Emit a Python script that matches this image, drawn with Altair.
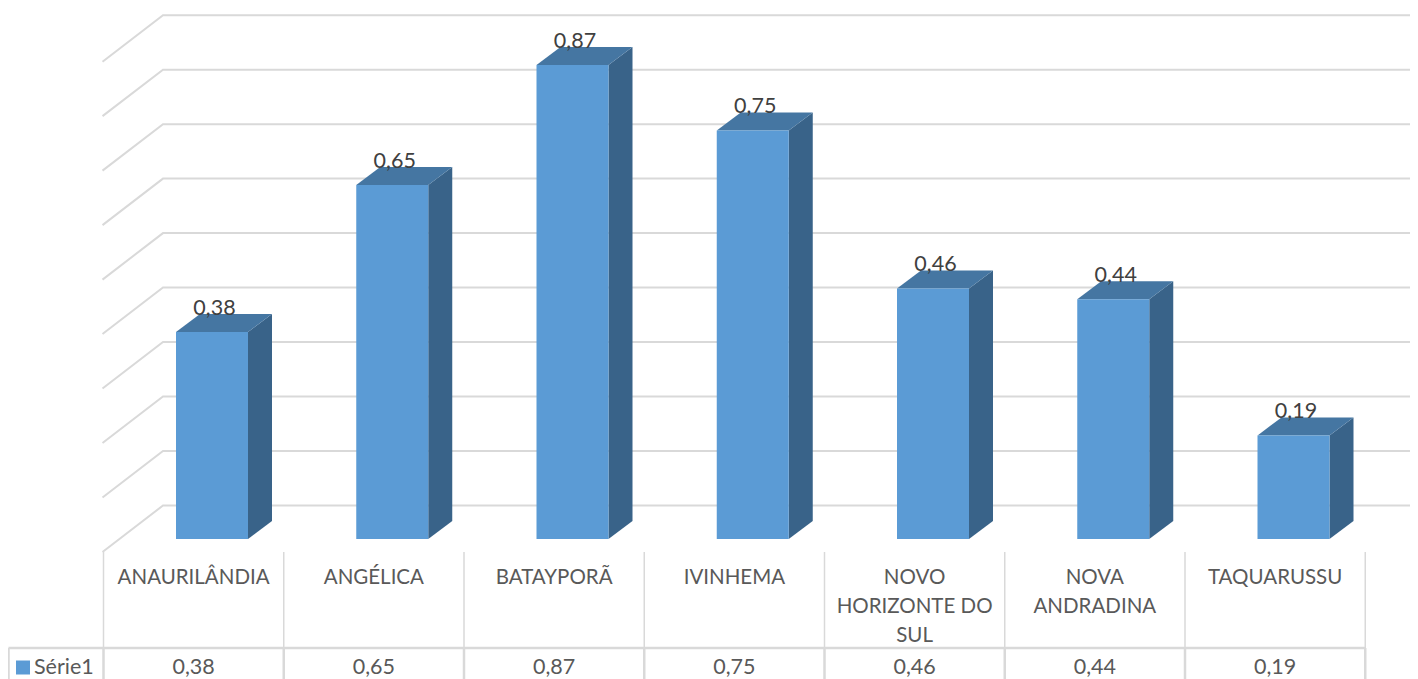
import altair as alt
import pandas as pd

categories = ["ANAURILÂNDIA", "ANGÉLICA", "BATAYPORÃ", "IVINHEMA",
              "NOVO\nHORIZONTE DO\nSUL", "NOVA\nANDRADINA", "TAQUARUSSU"]
values = [0.38, 0.65, 0.87, 0.75, 0.46, 0.44, 0.19]
labels = ["0,38", "0,65", "0,87", "0,75", "0,46", "0,44", "0,19"]
ticks = [0.0, 0.1, 0.2, 0.3, 0.4, 0.5, 0.6, 0.7, 0.8, 0.9]
series_name = "Série1"

W, H = 1402, 671
PX = 180.25          # pixels per category
PY = 544.8           # pixels per value unit
X0, Y0 = 212 - 8, 539 - 8   # category 0 and value 0 inside the plot


def ux(px):          # length in pixels -> x units
    return px / PX


def uy(px):          # length in pixels -> y units
    return px / PY


xs = alt.Scale(domain=[-X0 / PX, (W - X0) / PX], nice=False, zero=False)
ys = alt.Scale(domain=[-(H - Y0) / PY, Y0 / PY], nice=False, zero=False)


def X(f="x"):
    return alt.X(f"{f}:Q", scale=xs, axis=None, title=None)


def Y(f="y"):
    return alt.Y(f"{f}:Q", scale=ys, axis=None, title=None)


half = ux(36)
dx, dy = ux(24), uy(18)

bars, side, top = [], [], []
for i, v in enumerate(values):
    bars.append({"x": i - half, "x2": i + half, "y": v, "y2": 0})
    side += [{"g": i, "x": i + half, "y": v, "y2": 0},
             {"g": i, "x": i + half + dx, "y": v + dy, "y2": dy}]
    top += [{"g": i, "y": v, "x": i - half, "x2": i + half},
            {"g": i, "y": v + dy, "x": i - half + dx, "x2": i + half + dx}]

wall_front_x, wall_back_x = ux(102.5 - 212), ux(163 - 212)
right_x = (W - X0) / PX
front_off, back_off = uy(539 - 552), uy(33.5)
grid = []
for t in ticks:
    grid += [{"t": t, "o": 0, "x": wall_front_x, "y": t + front_off},
             {"t": t, "o": 1, "x": wall_back_x, "y": t + back_off},
             {"t": t, "o": 2, "x": right_x, "y": t + back_off}]

GRID = "#d9d9d9"
grid_l = alt.Chart(pd.DataFrame(grid)).mark_line(color=GRID, strokeWidth=2).encode(
    x=X(), y=Y(), detail="t:N", order="o:Q")

table_x = [ux(103.5 - 212) + i for i in range(8)]
y_head = front_off
y_row = uy(539 - 648)
y_bottom = -(H - Y0) / PY
left_edge = -X0 / PX + ux(0.5)
cell = ux(103.5 + 90.1 - 212)

v_upper = alt.Chart(pd.DataFrame({"x": table_x, "y": [y_head] * 8, "y2": [y_row] * 8})).mark_rule(
    color=GRID, strokeWidth=1.5).encode(x=X(), y=Y(), y2="y2:Q")
v_lower = alt.Chart(pd.DataFrame({"x": [left_edge] + table_x, "y": [y_row] * 9, "y2": [y_bottom] * 9})).mark_rule(
    color=GRID, strokeWidth=2.5).encode(x=X(), y=Y(), y2="y2:Q")
h_row = alt.Chart(pd.DataFrame({"x": [left_edge], "x2": [table_x[-1]], "y": [y_row]})).mark_rule(
    color=GRID, strokeWidth=2.5).encode(x=X(), x2="x2:Q", y=Y())

side_l = alt.Chart(pd.DataFrame(side)).mark_area(color="#396389", opacity=1).encode(
    x=X(), y=Y(), y2="y2:Q", detail="g:N")
top_l = alt.Chart(pd.DataFrame(top)).mark_area(color="#4576a2", opacity=1, orient="horizontal").encode(
    y=Y(), x=X(), x2="x2:Q", detail="g:N")
bar_l = alt.Chart(pd.DataFrame(bars)).mark_rect(color="#5b9bd5", opacity=1).encode(
    x=X(), x2="x2:Q", y=Y(), y2="y2:Q")

FONT = "Lato"
val_l = alt.Chart(pd.DataFrame({"x": [i + ux(2.5) for i in range(7)],
                                "y": [v + uy(23) for v in values], "t": labels})).mark_text(
    font=FONT, fontSize=21.5, color="#404040").encode(x=X(), y=Y(), text="t:N")
cat_l = alt.Chart(pd.DataFrame({"x": [cell + i for i in range(7)],
                                "y": [uy(539 - 568)] * 7, "t": categories})).mark_text(
    font=FONT, fontSize=20.5, color="#595959", baseline="top", lineBreak="\n", lineHeight=29).encode(
    x=X(), y=Y(), text="t:N")
row_l = alt.Chart(pd.DataFrame({"x": [cell + i for i in range(7)], "y": [uy(539 - 668)] * 7, "t": labels})).mark_text(
    font=FONT, fontSize=21.5, color="#595959").encode(x=X(), y=Y(), text="t:N")
name_l = alt.Chart(pd.DataFrame({"x": [ux(34 - 212)], "y": [uy(539 - 668)], "t": [series_name]})).mark_text(
    font=FONT, fontSize=21.5, color="#595959", align="left").encode(x=X(), y=Y(), text="t:N")
key_l = alt.Chart(pd.DataFrame({"x": [ux(23 - 212)], "y": [uy(539 - 667.5)]})).mark_square(
    color="#5b9bd5", size=196, opacity=1).encode(x=X(), y=Y())

chart = alt.layer(
    grid_l, v_upper, v_lower, h_row, side_l, top_l, bar_l, val_l, cat_l, row_l, name_l, key_l
).properties(
    width=W, height=H, padding=0, autosize=alt.AutoSizeParams(type="none"), background="white"
).configure_view(stroke=None)

chart.save("out.html", embed_options={"renderer": "svg", "actions": False})
